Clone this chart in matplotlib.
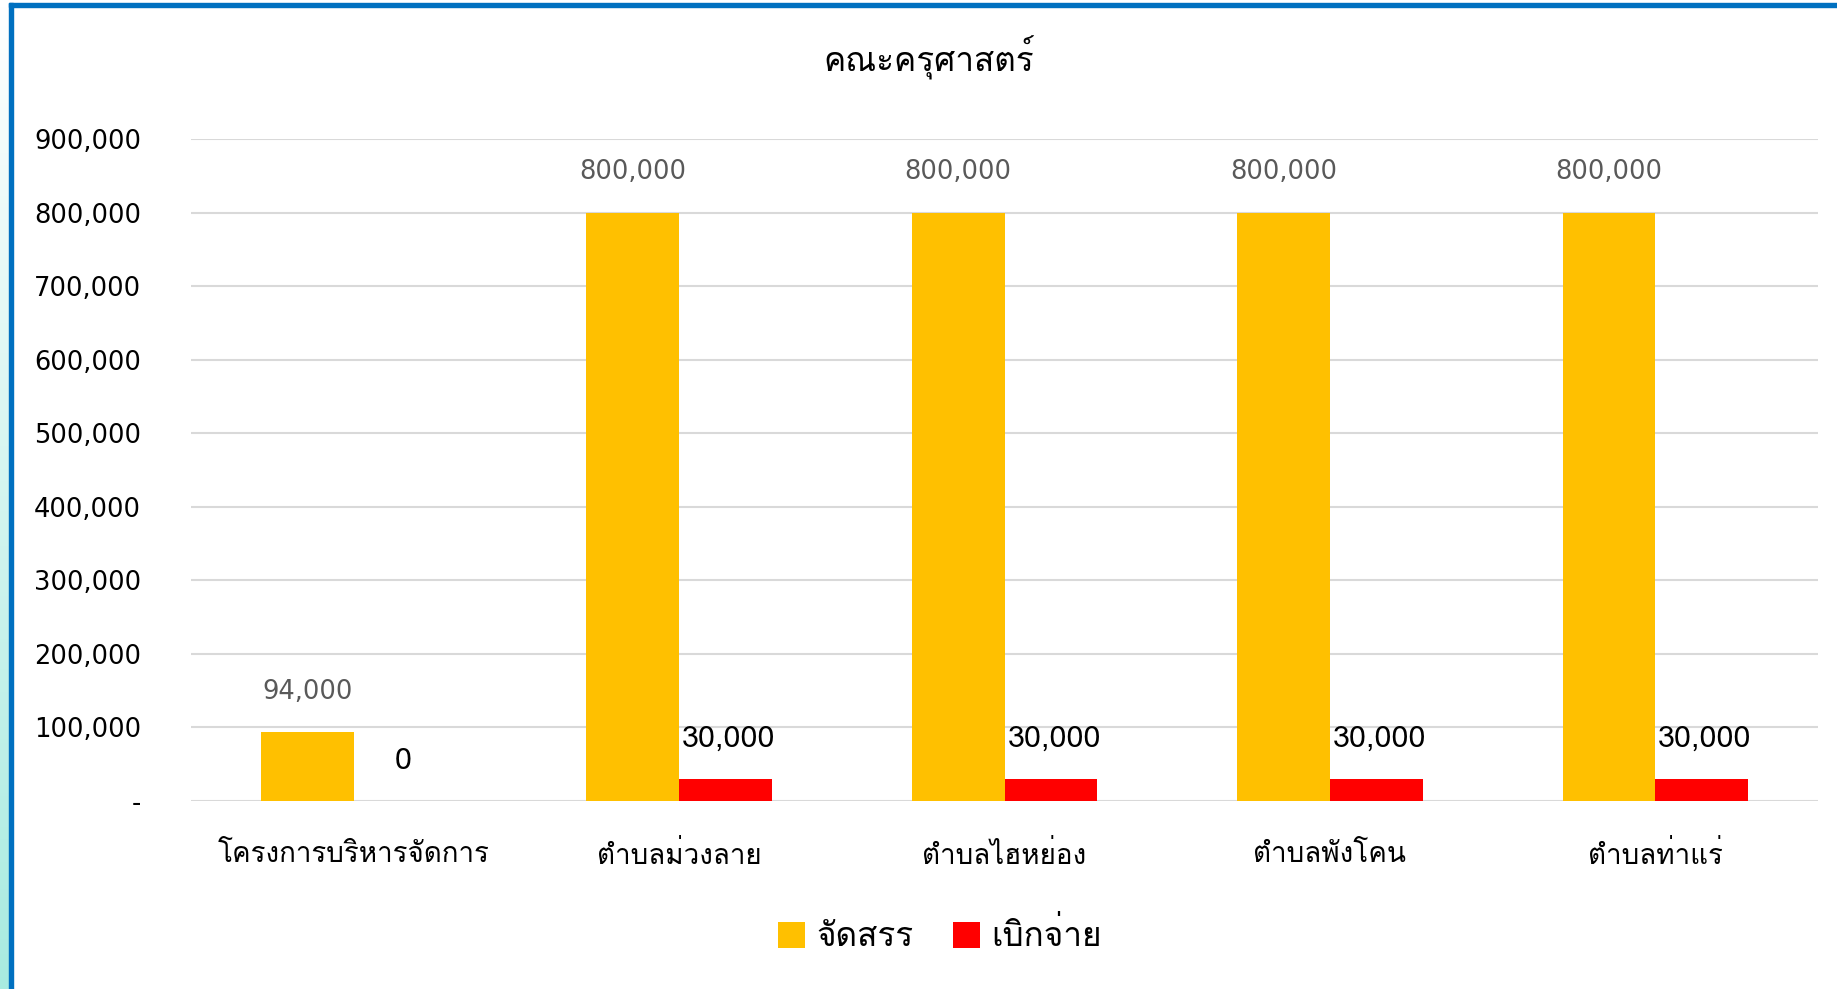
import numpy as np
import matplotlib
matplotlib.use('Agg')
import matplotlib.pyplot as plt
from matplotlib import font_manager
from matplotlib.patches import Rectangle
from fontTools.ttLib import TTFont

# ข้อมูล
categories = ['โครงการบริหารจัดการ', 'ตำบลม่วงลาย', 'ตำบลไฮหย่อง', 'ตำบลพังโคน', 'ตำบลท่าแร่']
allocated = [94000, 800000, 800000, 800000, 800000]
disbursed = [0, 30000, 30000, 30000, 30000]
series_names = ['จัดสรร', 'เบิกจ่าย']
title = 'คณะครุศาสตร์'


def find_thai_font():
    # หา font ที่มีตัวอักษรไทย
    for f in font_manager.fontManager.ttflist:
        try:
            tt = TTFont(f.fname, fontNumber=0, lazy=True)
            cmap = tt.getBestCmap()
            if cmap and 0x0E01 in cmap:
                return f.name
        except Exception:
            pass
    return None


thai = find_thai_font()
thai_family = [thai, 'DejaVu Sans'] if thai else ['DejaVu Sans']

fig = plt.figure(figsize=(18.37, 9.89), dpi=100)
ax = fig.add_axes([191 / 1837, 1 - 801 / 989, (1818 - 191) / 1837, (801 - 139) / 989])

x = np.arange(len(categories))
w = 0.285
b1 = ax.bar(x - w / 2, allocated, w, color='#FFC000', label=series_names[0], zorder=3)
b2 = ax.bar(x + w / 2, disbursed, w, color='#FF0000', label=series_names[1], zorder=3)

for xi, v in zip(x, allocated):
    ax.annotate(f'{v:,}', (xi - w / 2, v), xytext=(0, 29), textcoords='offset points',
                ha='center', va='center', fontsize=18.5, color='#595959')
for xi, v in zip(x, disbursed):
    ax.annotate(f'{v:,}', (xi + w / 2 + 0.01, v), xytext=(0, 29), textcoords='offset points',
                ha='center', va='center', fontsize=22, color='black', family=thai_family)

ax.set_xlim(-0.5, len(categories) - 0.5)
ax.set_ylim(0, 900000)
yt = np.arange(0, 900001, 100000)
ax.set_yticks(yt)
ax.set_yticklabels(['-' if v == 0 else f'{v:,}' for v in yt], fontsize=18.5)
ax.set_xticks(x)
ax.set_xticklabels(categories, fontsize=20, family=thai_family, va='center')
ax.tick_params(axis='y', length=0, pad=36)
ax.tick_params(axis='x', length=0, pad=39)
ax.grid(axis='y', color='#D9D9D9', linewidth=1.5, zorder=0)
for s in ax.spines.values():
    s.set_visible(False)

fig.text(929 / 1837, 1 - 58 / 989, title, ha='center', va='center', fontsize=24,
         family=thai_family)

leg = fig.legend(handles=[b1, b2], labels=series_names, loc='center',
                 bbox_to_anchor=(940 / 1837, 1 - 936 / 989), ncol=2, frameon=False,
                 prop={'family': thai_family, 'size': 24}, handlelength=0.8,
                 handleheight=0.8, handletextpad=0.35, columnspacing=1.2)

# กรอบสีน้ำเงิน
fig.patches.append(Rectangle((9 / 1837, 1 - 7 / 989), 1 - 9 / 1837, 4 / 989,
                             transform=fig.transFigure, color='#0070C0', zorder=10))
fig.patches.append(Rectangle((9 / 1837, 0), 4 / 1837, 1 - 3 / 989,
                             transform=fig.transFigure, color='#0070C0', zorder=10))
# แถบไล่สีด้านซ้าย
gax = fig.add_axes([0, 0, 9 / 1837, 1 - 3 / 989])
grad = np.linspace(0, 1, 256).reshape(-1, 1)
gax.imshow(grad, aspect='auto', cmap=matplotlib.colors.LinearSegmentedColormap.from_list(
    'g', ['#A8EBE0', '#FFFFFF']), origin='lower')
gax.axis('off')

fig.savefig('out.png', dpi=100)
